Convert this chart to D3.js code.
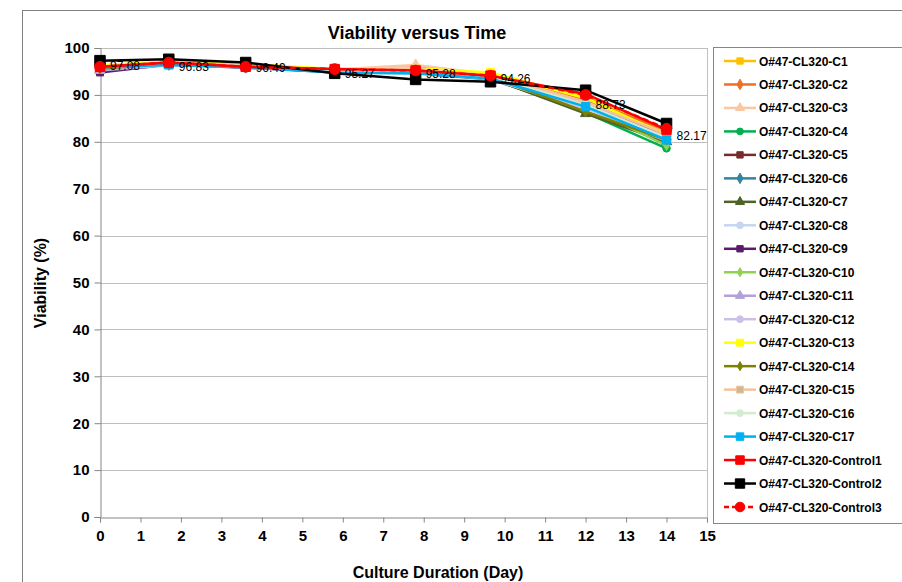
<!DOCTYPE html>
<html>
<head>
<meta charset="utf-8">
<script src="https://d3js.org/d3.v7.min.js"></script>
<style>
  body { margin: 0; background: #fff; }
  text { font-family: "Liberation Sans", Arial, sans-serif; }
</style>
</head>
<body>
<script>
// Sampling days (x values)
const days = [0, 1.7, 3.6, 5.8, 7.8, 9.65, 12, 14];

// Series names and viability values (%)
const seriesNames = [
  "O#47-CL320-C1", "O#47-CL320-C2", "O#47-CL320-C3", "O#47-CL320-C4", "O#47-CL320-C5",
  "O#47-CL320-C6", "O#47-CL320-C7", "O#47-CL320-C8", "O#47-CL320-C9", "O#47-CL320-C10",
  "O#47-CL320-C11", "O#47-CL320-C12", "O#47-CL320-C13", "O#47-CL320-C14", "O#47-CL320-C15",
  "O#47-CL320-C16", "O#47-CL320-C17", "O#47-CL320-Control1", "O#47-CL320-Control2", "O#47-CL320-Control3"
];

const c1  = [96.0, 97.0, 96.5, 95.3, 95.6, 94.6, 89.6, 82.0];
const c2  = [95.8, 96.8, 96.3, 95.2, 95.9, 94.2, 88.9, 82.5];
const c3  = [96.2, 96.9, 96.4, 95.4, 96.4, 94.4, 88.5, 81.8];
const c4  = [95.5, 96.6, 96.0, 94.9, 94.8, 93.5, 86.2, 78.6];
const c5  = [95.4, 96.8, 96.2, 95.0, 95.0, 93.9, 88.0, 81.2];
const c6  = [95.6, 96.5, 95.9, 94.8, 94.6, 93.3, 86.8, 79.6];
const c7  = [95.3, 96.7, 96.1, 94.9, 94.9, 93.6, 86.0, 80.0];
const c8  = [95.7, 96.4, 96.0, 95.0, 94.9, 93.4, 87.0, 80.2];
const c9  = [94.8, 96.5, 95.8, 94.9, 95.0, 93.8, 87.4, 80.6];
const c10 = [95.6, 96.6, 96.1, 95.1, 95.1, 93.7, 87.6, 79.2];
const c11 = [95.2, 96.3, 95.9, 95.0, 95.2, 93.6, 87.8, 81.0];
const c12 = [95.5, 96.4, 96.0, 94.9, 95.0, 93.5, 87.2, 80.8];
const c13 = [96.3, 97.1, 96.6, 95.5, 95.7, 94.8, 89.3, 81.5];
const c14 = [95.6, 96.7, 96.2, 95.0, 95.3, 93.9, 86.4, 80.4];
const c15 = [96.0, 96.9, 96.3, 95.3, 95.6, 94.1, 88.4, 81.6];
const c16 = [95.9, 96.6, 96.1, 95.1, 95.2, 93.8, 87.9, 80.9];
const c17 = [95.9, 96.4, 95.9, 94.8, 94.6, 93.5, 87.5, 80.4];
const control1 = [96.0, 96.9, 96.0, 95.5, 95.2, 94.1, 90.2, 82.6];
const control2 = [97.3, 97.6, 96.9, 94.6, 93.3, 92.8, 91.0, 83.9];
const control3 = [96.0, 96.9, 96.0, 95.5, 95.2, 94.1, 90.0, 82.8];

const seriesValues = [c1, c2, c3, c4, c5, c6, c7, c8, c9, c10, c11, c12, c13, c14, c15, c16, c17,
  control1, control2, control3];

// Data labels shown on the chart
const labelValues = [97.08, 96.83, 96.49, 95.27, 95.28, 94.26, 88.73, 82.17];
const labelTexts = ["97.08", "96.83", "96.49", "95.27", "95.28", "94.26", "88.73", "82.17"];

const xTicks = d3.range(0, 16, 1);
const yTicks = d3.range(0, 101, 10);

// Style per series: colour, marker, marker size, dashed
const colors = ["#ffc000", "#f07022", "#f9c7a4", "#00b050", "#772c2a", "#31859c", "#4f6228", "#c6d6ef",
  "#5c1a6a", "#92d050", "#b3a2d9", "#ccc0e6", "#ffff00", "#808000", "#f6c29a", "#d3ebd0", "#00b0f0",
  "#ff0000", "#000000", "#ff0000"];
const markers = [d3.symbolSquare, d3.symbolDiamond, d3.symbolTriangle, d3.symbolCircle, d3.symbolSquare,
  d3.symbolDiamond, d3.symbolTriangle, d3.symbolCircle, d3.symbolSquare, d3.symbolDiamond,
  d3.symbolTriangle, d3.symbolCircle, d3.symbolSquare, d3.symbolDiamond, d3.symbolSquare,
  d3.symbolCircle, d3.symbolSquare, d3.symbolSquare, d3.symbolSquare, d3.symbolCircle];
const markerSize = [50, 40, 45, 45, 50, 40, 45, 45, 50, 30, 45, 45, 60, 30, 60, 45, 70, 90, 110, 90];
const markerFill = colors.map((c, i) => i === 14 ? "#c4bd97" : c);

const W = 902, H = 582;
const svg = d3.select("body").append("svg")
  .attr("width", W)
  .attr("height", H);

// outer chart frame
svg.append("rect")
  .attr("x", 22.5).attr("y", 10.5)
  .attr("width", 900).attr("height", 600)
  .attr("fill", "none").attr("stroke", "#808080").attr("stroke-width", 1);

const x = d3.scaleLinear().domain([0, 15]).range([100, 707]);
const y = d3.scaleLinear().domain([0, 100]).range([517, 48]);

// gridlines
svg.append("g")
  .selectAll("line")
  .data(yTicks.filter(d => d > 0))
  .join("line")
  .attr("x1", x(0)).attr("x2", x(15))
  .attr("y1", d => Math.round(y(d)) + 0.5).attr("y2", d => Math.round(y(d)) + 0.5)
  .attr("stroke", "#bfbfbf").attr("stroke-width", 1);

// right border of plot area
svg.append("line")
  .attr("x1", x(15) + 0.5).attr("x2", x(15) + 0.5)
  .attr("y1", y(100)).attr("y2", y(0))
  .attr("stroke", "#bfbfbf");

// axes
const xAxis = svg.append("g")
  .attr("transform", `translate(0,${Math.round(y(0)) + 0.5})`)
  .call(d3.axisBottom(x).tickValues(xTicks).tickSize(5).tickPadding(8).tickFormat(d3.format("d")));
const yAxis = svg.append("g")
  .attr("transform", `translate(${Math.round(x(0)) + 0.5},0)`)
  .call(d3.axisLeft(y).tickValues(yTicks).tickSize(6).tickPadding(5).tickFormat(d3.format("d")));

[xAxis, yAxis].forEach(a => {
  a.select(".domain").attr("stroke", "#868686");
  a.selectAll(".tick line").attr("stroke", "#868686");
  a.selectAll(".tick text")
    .attr("font-family", "Liberation Sans, Arial, sans-serif")
    .attr("font-size", 15).attr("font-weight", "bold").attr("fill", "#000");
});

// series lines and markers
const line = d3.line()
  .x((d, i) => x(days[i]))
  .y(d => y(d));

seriesValues.forEach((vals, s) => {
  const g = svg.append("g");
  g.append("path")
    .attr("d", line(vals))
    .attr("fill", "none")
    .attr("stroke", colors[s])
    .attr("stroke-width", 2.5)
    .attr("stroke-dasharray", s === 19 ? "6,4" : null);
  g.selectAll("path.m")
    .data(vals)
    .join("path")
    .attr("class", "m")
    .attr("transform", (d, i) => `translate(${x(days[i])},${y(d)})`)
    .attr("d", d3.symbol().type(markers[s]).size(markerSize[s]))
    .attr("fill", markerFill[s])
    .attr("stroke", colors[s])
    .attr("stroke-width", 1);
});

// data labels
svg.append("g")
  .selectAll("text")
  .data(labelValues)
  .join("text")
  .attr("x", (d, i) => x(days[i]) + 10)
  .attr("y", d => y(d) + 8)
  .attr("font-size", 12)
  .attr("fill", "#000")
  .text((d, i) => labelTexts[i]);

// title
svg.append("text")
  .attr("x", 417).attr("y", 39)
  .attr("text-anchor", "middle")
  .attr("font-size", 18).attr("font-weight", "bold")
  .text("Viability versus Time");

// axis titles
svg.append("text")
  .attr("x", 438).attr("y", 578)
  .attr("text-anchor", "middle")
  .attr("font-size", 16).attr("font-weight", "bold")
  .text("Culture Duration (Day)");

svg.append("text")
  .attr("transform", "translate(46,283) rotate(-90)")
  .attr("text-anchor", "middle")
  .attr("font-size", 16).attr("font-weight", "bold")
  .text("Viability (%)");

// legend
const legend = svg.append("g");
legend.append("rect")
  .attr("x", 713.5).attr("y", 47.5)
  .attr("width", 200).attr("height", 476)
  .attr("fill", "#fff").attr("stroke", "#868686");

const ly = d3.scalePoint().domain(seriesNames).range([61, 507]);

seriesNames.forEach((name, s) => {
  const yy = ly(name);
  legend.append("line")
    .attr("x1", 724).attr("x2", 756)
    .attr("y1", yy).attr("y2", yy)
    .attr("stroke", colors[s]).attr("stroke-width", 2.5)
    .attr("stroke-dasharray", s === 19 ? "5,3" : null);
  legend.append("path")
    .attr("transform", `translate(740,${yy})`)
    .attr("d", d3.symbol().type(markers[s]).size(markerSize[s] * 0.8))
    .attr("fill", markerFill[s]).attr("stroke", colors[s]);
  legend.append("text")
    .attr("x", 759).attr("y", yy + 4.5)
    .attr("font-size", 12).attr("font-weight", "bold")
    .text(name);
});
</script>
</body>
</html>
